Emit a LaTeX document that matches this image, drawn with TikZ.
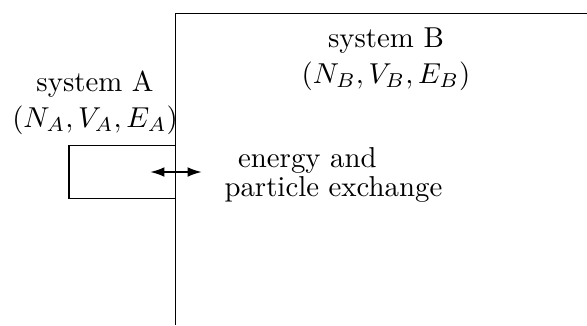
\documentclass[tikz,border=0pt]{standalone}
\usetikzlibrary{arrows.meta}
\begin{document}
\begin{tikzpicture}[x=0.3472pt,y=-0.3472pt,
  wall/.style={draw=black,line width=0.45pt},
  lbl/.style={inner sep=0pt,font=\fontsize{10}{12.5}\selectfont},
  xchg/.style={{Latex[length=5pt,width=3.4pt]}-{Latex[length=5pt,width=3.4pt]},line width=0.75pt}]
\useasboundingbox (0,0) rectangle (587,325);
% system B (open box, extends beyond the page)
\coordinate (Btr) at (587,13.3);
\coordinate (Btl) at (175.5,13.3);
\coordinate (Bbl) at (175.5,325);
\draw[wall] (Btr) -- (Btl) -- (Bbl);
% system A box
\coordinate (Atl) at (69,145.7);
\coordinate (Abr) at (175.5,198.3);
\draw[wall] (Atl) rectangle (Abr);
% labels
\node[lbl,align=center,anchor=north] (labA) at (95,70.3) {system A\\$(N_A,V_A,E_A)$};
\node[lbl,align=center,anchor=north] (labB) at (386,27.3) {system B\\$(N_B,V_B,E_B)$};
\node[lbl,align=left,anchor=north west] (labX) at (224,147) {\hspace*{4.7pt}energy and\\[-2.6pt]particle exchange};
% exchange arrow
\coordinate (xl) at (150,172);
\coordinate (xr) at (202,172);
\draw[xchg] (xl) -- (xr);
\end{tikzpicture}
\end{document}
